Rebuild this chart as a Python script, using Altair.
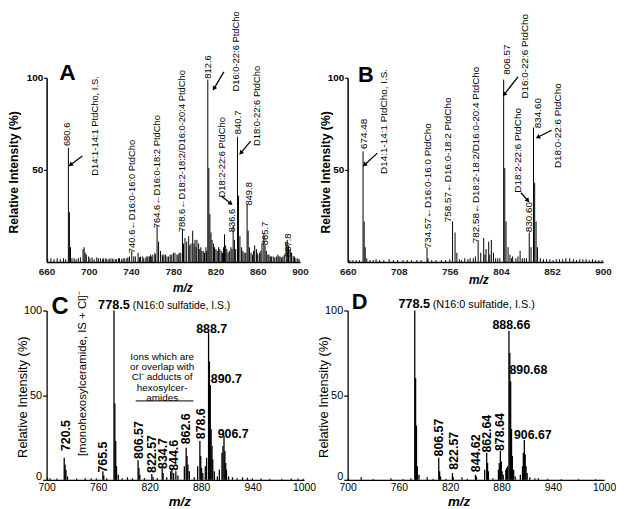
import altair as alt
import pandas as pd

FONT = "Liberation Sans"

# ---------------- Panel A (spectrum peaks: m/z, relative intensity) ----------------
A_peaks = [
    (661, 1.5), (664, 2), (667, 1.5), (670, 2), (673, 1.5), (676, 2), (678, 1.5),
    (680.6, 62), (681.6, 27), (682.6, 8), (684, 2), (686, 2), (688, 1.5), (690, 2), (692, 2.5),
    (694.5, 7), (695.5, 8), (696.5, 5), (697.6, 4), (699.8, 3), (701, 2), (703, 2.5), (705, 1.5),
    (707.5, 2.5), (709, 2), (711, 2), (713, 1.5), (714, 2), (716, 2), (717, 1.5), (719, 1.5),
    (720, 2), (722, 2), (723, 1.5), (725, 1.5), (726, 1.5), (728, 2), (729, 2), (731, 1.5),
    (732.4, 2), (734, 2), (736, 2), (737, 2.5), (738.5, 3), (740.6, 6), (742.5, 3), (744, 3),
    (746.6, 5), (748, 2.5), (749, 3), (751, 3), (752, 2), (754, 2.5), (755, 3), (756, 3),
    (757.5, 3), (758.5, 4), (759.5, 3), (760.6, 4), (762.5, 5), (763, 4), (764.6, 20), (766, 11),
    (767.8, 6), (769.5, 4), (770, 3), (771, 4), (772.5, 4), (774, 3), (775.5, 3), (777, 4),
    (778.5, 4), (780, 5), (781.5, 5), (783.4, 4), (784.5, 4), (785.5, 5), (787, 5), (788.6, 18),
    (789.6, 10), (791, 13), (792.6, 11), (794.5, 14), (795.5, 9), (796.7, 10), (798.3, 17),
    (799.5, 10), (800.5, 12), (801.5, 8), (802.3, 12), (803.9, 10), (805, 7), (806, 8), (807, 6),
    (808.3, 6), (809.5, 5), (810.8, 8), (811.5, 6), (812.6, 99), (813.6, 51), (814.6, 26),
    (815.6, 16), (816.6, 12), (818, 10), (819, 8), (820.3, 7), (821.5, 6), (822.8, 8), (824, 7),
    (825.3, 6), (826.5, 5), (827.5, 8), (828.4, 15), (829.5, 9), (830.6, 7), (831.8, 5), (833, 6),
    (834.5, 8), (835.5, 7), (836.6, 20), (837.8, 12), (839, 7), (840.7, 68), (841.7, 36), (843, 14),
    (844.6, 8), (845.8, 6), (847, 5), (848.5, 5), (849.8, 31), (850.8, 17), (852, 8), (853.5, 5),
    (855, 4), (856, 6), (857, 9), (858.6, 7), (859.3, 5), (860, 4), (861.7, 5), (862.8, 6),
    (863.9, 10), (865.7, 15), (866.8, 9), (868, 6), (869.5, 4), (870.5, 4), (871.8, 3), (872.8, 3),
    (874.5, 3), (876, 2.5), (877.5, 3), (879, 4), (880, 3), (881, 3), (882.5, 2.5), (883.7, 3),
    (885, 4), (886.8, 10), (887.8, 12), (888.5, 6), (889, 9), (890.5, 7), (891.5, 5), (892, 5),
    (893.5, 3), (894.7, 3), (896, 2), (897.8, 2), (899, 1.5),
]
A_rot = [
    ("680.6", 679.7, 62.9),
    ("D14:1-14:1 PtdCho, I.S.", 705.9, 46.8),
    ("740.6\u2190D16:0-16:0 PtdCho", 740.6, 4.8),
    ("764.6\u2190D16:0-18:2 PtdCho", 765.0, 18.3),
    ("788.6\u2190D18:2-18:2/D16:0-20:4 PtdCho", 788.4, 16.1),
    ("812.6", 812.8, 99.5),
    ("D16:0-22:6 PtdCho", 839.0, 92.5),
    ("D18:2-22:6 PtdCho", 826.0, 35.0),
    ("836.6", 835.3, 16.1),
    ("840.7", 841.0, 69.4),
    ("D18:0-22:6 PtdCho", 858.8, 62.9),
    ("849.8", 851.3, 30.6),
    ("865.7", 867.2, 9.1),
    ("887.8", 888.8, 2.7),
]
A_arrows = [  # tail mz, tail %, head mz, head %, head angle
    (693.8, 57.5, 682.5, 52.7, 233),
    (827.8, 103.2, 818.4, 94.1, 210),
    (825.9, 35.5, 834.4, 31.7, 128),
    (853.1, 65.6, 843.8, 59.1, 220),
]
A_letter = [("A", 679.7, 98.9)]

# ---------------- Panel B ----------------
B_peaks = [
    (662, 1), (665, 1), (668, 1), (671, 1), (674.48, 60), (675.5, 22), (676.5, 8), (678, 2),
    (681, 1), (684, 1), (686.7, 1.5), (690, 1), (694, 1), (699, 1.5), (703, 1), (707, 1),
    (712, 1), (716, 1), (720, 1), (725, 1), (729, 1), (734.57, 8), (735.5, 2), (739, 1),
    (743, 1), (748, 1), (752, 1), (756, 1.5), (758.57, 22), (760.9, 16), (762.6, 5), (765, 1.5),
    (767, 1), (770, 2), (773, 1.5), (775, 2), (778, 2), (780, 3), (782.58, 11), (785, 5),
    (787.8, 13), (789, 4), (790, 7), (792.5, 11), (793.5, 4), (795, 12), (797, 5), (799, 2),
    (801, 2), (803, 2), (806.57, 99), (807.6, 51), (808.8, 22), (810.7, 8), (812.5, 4), (814, 2),
    (815, 3), (818, 2), (820, 3), (822, 6), (824, 2), (826, 2), (828, 2), (830.6, 16), (832.3, 8),
    (834.6, 73), (835.7, 43), (837, 22), (838.3, 8), (841, 2), (844, 1.5), (846.9, 1.5), (850, 1.5),
    (853, 1), (856, 1.5), (859, 1.5), (862, 1.5), (865, 2), (868.6, 2), (872, 1.5), (875, 1),
    (878, 1.5), (881, 1.5), (884, 1.5), (887, 1), (890, 1.5), (893, 1), (896, 1), (899, 1),
]
B_rot = [
    ("674.48", 675.8, 61.3),
    ("D14:1-14:1 PtdCho, I.S.", 694.4, 47.8),
    ("734.57\u2190D16:0-16:0 PtdCho", 735.3, 7.5),
    ("758.57\u2190D16:0-18:2 PtdCho", 754.0, 21.5),
    ("782.58\u2190D18:2-18:2/D16:0-20:4 PtdCho", 781.0, 10.2),
    ("806.57", 809.8, 101.6),
    ("D16:0-22:6 PtdCho", 826.5, 88.7),
    ("D18:2-22:6 PtdCho", 820.0, 37.6),
    ("830.60", 830.2, 16.1),
    ("834.60", 838.6, 72.6),
    ("D18:0-22:6 PtdCho", 857.2, 51.0),
]
B_arrows = [
    (687.9, 59.1, 675.8, 52.7, 227),
    (820.0, 100.5, 807.0, 90.9, 218),
    (822.8, 37.6, 829.3, 33.3, 139),
    (851.6, 71.5, 838.6, 67.7, 243),
]
B_letter = [("B", 677.2, 97.8)]

# ---------------- Panel C ----------------
C_peaks = [
    (701, 1.5), (704, 1), (712, 0.8), (720.5, 13), (721.5, 9), (722.5, 6), (724.3, 2), (735, 0.8),
    (745, 1), (751.9, 1), (758, 0.8), (765.5, 5), (766.6, 2.5), (770, 1), (778.5, 100), (779.5, 45),
    (780.5, 23), (781.5, 8), (783.5, 3), (788, 1), (794.2, 1.5), (799.9, 1), (806.57, 11.5),
    (807.6, 7), (808.6, 3), (814, 1), (822.57, 3.5), (824, 1.5), (829, 1), (834.7, 7), (835.7, 4),
    (840, 1.5), (844.6, 5), (846, 6), (848, 4), (850.6, 5), (853, 2.5), (860.5, 8), (862.6, 19),
    (863.6, 14), (864.6, 9), (866.3, 5), (872, 1.5), (876, 8), (878.6, 23), (879.6, 14), (880.6, 7),
    (882, 4), (884.9, 8), (886.4, 13), (888.7, 87), (889.7, 70), (890.7, 56), (891.7, 30),
    (892.7, 20), (893.6, 12), (895.5, 5), (899, 2), (901.3, 6), (904.3, 16), (905.5, 20),
    (906.7, 26), (907.7, 17), (908.7, 10), (909.6, 6), (912, 2), (916.6, 1.5), (922, 1),
    (928.2, 1.5), (934, 1.2), (939.7, 1), (950, 0.8), (960, 0.7), (974, 0.7), (985, 0.8),
    (993, 0.8), (999, 0.7),
]
C_rot = [
    ("720.5", 723.1, 17.0), ("765.5", 765.8, 4.3), ("806.57", 807.3, 12.3),
    ("822.57", 822.3, 4.1), ("834.7", 835.3, 6.4), ("844.6", 848.0, 5.3),
    ("862.6", 862.7, 21.0), ("878.6", 879.6, 24.0),
]
C_side = [("[monohexosylceramide, IS + Cl]\u207b", 742.3, 14.0)]
C_big = [("888.7", 892.3, 87.0), ("890.7", 909.4, 56.9), ("906.7", 917.3, 24.7)]
C_is = [("778.5", 760.0, 100.6)]
C_is2 = [("(N16:0 sulfatide, I.S.)", 800.5, 100.6)]
C_block = [
    ("Ions which are", 834.6, 72.5), ("or overlap with", 834.6, 66.7),
    ("Cl\u207b adducts of", 834.6, 60.8), ("hexosylcer-", 834.6, 54.4), ("amides", 834.6, 48.5),
]
C_under = [(803.8, 871.1, 46.6)]
C_letter = [("C", 715.6, 98.2)]

# ---------------- Panel D ----------------
D_peaks = [
    (701, 0.8), (715.9, 1.5), (730, 0.5), (750.6, 1), (765, 0.5), (774, 1), (778.5, 100),
    (779.5, 60), (780.5, 32), (781.5, 8), (783.4, 3), (793, 1.5), (800, 0.7), (806.57, 13),
    (807.6, 5), (808.6, 2), (815, 0.7), (822.57, 4), (823.6, 1.5), (833.8, 1.5), (840, 0.6),
    (849.5, 3), (850.6, 2), (860.3, 6), (862.64, 16), (863.7, 10), (864.7, 5), (870, 1),
    (876.4, 6), (877.4, 10), (878.64, 17), (879.7, 11), (880.7, 5), (882, 3), (885, 6), (886, 7),
    (887, 8), (888.66, 88), (889.7, 75), (890.68, 58), (891.7, 30), (892.7, 14), (894.2, 6),
    (896, 2), (902, 3), (904.5, 8), (905.5, 16), (906.67, 23.5), (907.7, 15), (908.7, 8),
    (910, 4), (913, 1.5), (919, 1), (923, 1), (934, 0.6), (950, 0.4), (970, 0.4), (990, 0.4),
]
D_rot = [
    ("806.57", 807.3, 13.8), ("822.57", 824.7, 6.0), ("844.62", 850.6, 4.5),
    ("862.64", 863.3, 16.1), ("878.64", 878.7, 17.0),
]
D_big = [("888.66", 891.5, 88.8), ("890.68", 911.4, 62.2), ("906.67", 916.6, 24.4)]
D_is = [("778.5", 759.4, 101.3)]
D_is2 = [("(N16:0 sulfatide, I.S.)", 799.5, 101.3)]
D_letter = [("D", 713.9, 100.6)]


def pk(p):
    return pd.DataFrame(p, columns=["mz", "ri"])


def lb(p):
    return pd.DataFrame(p, columns=["label", "mz", "ri"])


class Panel:
    def __init__(self, xs, ys, xaxis, yaxis):
        self.xs, self.ys, self.xa, self.ya = xs, ys, xaxis, yaxis
        self.layers = []

    def X(self, f):
        return alt.X(f, type="quantitative", scale=self.xs, axis=self.xa)

    def Y(self, f):
        return alt.Y(f, type="quantitative", scale=self.ys, axis=self.ya)

    def spectrum(self, peaks, sw):
        self.layers.append(alt.Chart(pk(peaks)).mark_rule(color="#000", strokeWidth=sw).encode(
            x=self.X("mz"), y=self.Y("ri"), y2=alt.datum(0)))

    def texts(self, rows, **kw):
        self.layers.append(alt.Chart(lb(rows)).mark_text(color="#000", **kw).encode(
            x=self.X("mz"), y=self.Y("ri"), text="label:N"))

    def arrows(self, rows):
        df = pd.DataFrame(rows, columns=["tx", "ty", "hx", "hy", "ang"])
        self.layers.append(alt.Chart(df).mark_rule(color="#000", strokeWidth=1.3).encode(
            x=self.X("tx"), x2="hx:Q", y=self.Y("ty"), y2="hy:Q"))
        self.layers.append(alt.Chart(df).mark_point(
            shape="triangle-up", filled=True, size=26, color="#000", opacity=1).encode(
            x=self.X("hx"), y=self.Y("hy"), angle=alt.Angle("ang:Q", scale=None)))

    def hline(self, rows):
        df = pd.DataFrame(rows, columns=["x1", "x2", "ri"])
        self.layers.append(alt.Chart(df).mark_rule(color="#000", strokeWidth=1).encode(
            x=self.X("x1"), x2="x2:Q", y=self.Y("ri")))

    def chart(self, w, h):
        return alt.layer(*self.layers).properties(width=w, height=h)


ys = alt.Scale(domain=[0, 100], nice=False, zero=True)


def top_y_axis(tx):
    return alt.Axis(values=[50, 100], title="Relative Intensity  (%)", titleFontSize=12.3,
                    titleFontWeight="bold", labelFontSize=10, labelFontWeight="bold",
                    tickSize=3, labelPadding=1, domainWidth=1.5, tickWidth=1.2,
                    titleX=tx, titleY=95, titleAngle=270, titleAlign="center",
                    titleBaseline="middle")


def top_x_axis(vals, tx, ty):
    return alt.Axis(values=vals, title="m/z", titleFontSize=12, titleFontWeight="bold",
                    titleFontStyle="italic", labelFontSize=10, labelFontWeight="bold",
                    labelColor="#222", tickSize=0, labelPadding=5, domainWidth=1.5,
                    labelFlush=False, labelOverlap=False, format="d",
                    titleX=tx, titleY=ty, titleAlign="center", titleBaseline="middle")


def bot_y_axis(tx):
    return alt.Axis(values=[0, 50, 100], title="Relative Intensity (%)", titleFontSize=13,
                    titleFontWeight="normal", labelFontSize=11, tickSize=4, labelPadding=1,
                    labelOffset={"condition": {"test": "datum.value == 0", "value": -3},
                                 "value": 0},
                    domainWidth=1.3, tickWidth=1.2, titleX=tx, titleY=87, titleAngle=270,
                    titleAlign="center", titleBaseline="middle")


def bot_x_axis(tx):
    return alt.Axis(values=[700, 760, 820, 880, 940, 1000], title="m/z", titleFontSize=13.5,
                    titleFontWeight="bold", titleFontStyle="italic", labelFontSize=10.5,
                    tickSize=0, labelPadding=3, domainWidth=1.3, labelFlush=False,
                    labelOverlap=False, format="d", titleX=tx, titleY=21.5,
                    titleAlign="center", titleBaseline="middle")


# ----- Panel A -----
pa = Panel(alt.Scale(domain=[660, 900], nice=False, zero=False), ys,
           top_x_axis([660, 700, 740, 780, 820, 860, 900], 137, 26), top_y_axis(-33))
pa.spectrum(A_peaks, 1.0)
pa.texts(A_rot, angle=270, align="left", baseline="middle", fontSize=9.5)
pa.arrows(A_arrows)
pa.texts(A_letter, fontSize=23, fontWeight="bold", align="center", baseline="alphabetic")
panelA = pa.chart(256, 186)

# ----- Panel B -----
pb = Panel(alt.Scale(domain=[660, 900], nice=False, zero=False), ys,
           top_x_axis([660, 708, 756, 804, 852, 900], 132, 18), top_y_axis(-22.5))
pb.spectrum(B_peaks, 1.0)
pb.texts(B_rot, angle=270, align="left", baseline="middle", fontSize=10)
pb.arrows(B_arrows)
pb.texts(B_letter, fontSize=22, fontWeight="bold", align="center", baseline="alphabetic")
panelB = pb.chart(258, 186)

rot_big = dict(angle=270, align="left", baseline="middle", fontSize=12.5, fontWeight="bold")

# ----- Panel C -----
pc = Panel(alt.Scale(domain=[700, 1000], nice=False, zero=False), ys,
           bot_x_axis(134), bot_y_axis(-24))
pc.spectrum(C_peaks, 1.3)
pc.texts(C_rot, **rot_big)
pc.texts(C_side, angle=270, align="left", baseline="middle", fontSize=11.5)
pc.texts(C_big, fontSize=12.5, fontWeight="bold", align="center", baseline="alphabetic")
pc.texts(C_is, fontSize=12.8, fontWeight="bold", align="left", baseline="alphabetic")
pc.texts(C_is2, fontSize=10.5, align="left", baseline="alphabetic")
pc.texts(C_block, fontSize=10, align="center", baseline="middle")
pc.hline(C_under)
pc.texts(C_letter, fontSize=24, fontWeight="bold", align="center", baseline="alphabetic")
panelC = pc.chart(260, 171)

# ----- Panel D -----
pdn = Panel(alt.Scale(domain=[700, 1000], nice=False, zero=False), ys,
            bot_x_axis(112), bot_y_axis(-24.5))
pdn.spectrum(D_peaks, 1.3)
pdn.texts(D_rot, **rot_big)
pdn.texts(D_big, fontSize=12.5, fontWeight="bold", align="center", baseline="alphabetic")
pdn.texts(D_is, fontSize=12.8, fontWeight="bold", align="left", baseline="alphabetic")
pdn.texts(D_is2, fontSize=11, align="left", baseline="alphabetic")
pdn.texts(D_letter, fontSize=22, fontWeight="bold", align="center", baseline="alphabetic")
panelD = pdn.chart(259, 171)

chart = alt.concat(
    panelA, panelB, panelC, panelD, columns=2,
    spacing=alt.RowColnumber(row=49, column=44), bounds="flush",
).properties(padding=0).configure_view(stroke=None).configure_axis(
    grid=False, domainColor="#000", tickColor="#000", labelColor="#000", titleColor="#000",
    labelFont=FONT, titleFont=FONT,
).configure_text(font=FONT)

chart.save("out.html", embed_options={"renderer": "svg", "actions": False})
